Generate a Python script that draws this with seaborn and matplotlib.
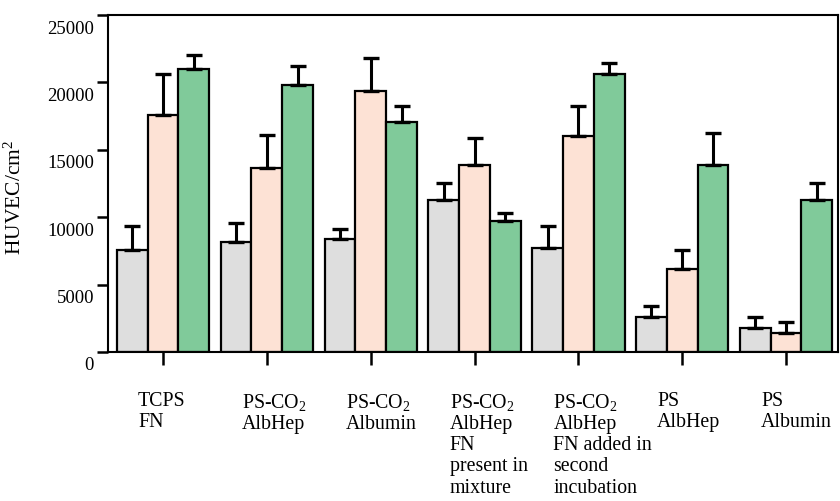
import numpy as np
import pandas as pd
import matplotlib
import matplotlib.pyplot as plt
import matplotlib.transforms as mtransforms
import seaborn as sns

matplotlib.use('Agg')
sns.set_style("ticks")
plt.rcParams['font.family'] = ['Liberation Serif', 'DejaVu Serif']
plt.rcParams['mathtext.fontset'] = 'custom'
plt.rcParams['mathtext.rm'] = 'Liberation Serif'
plt.rcParams['mathtext.it'] = 'Liberation Serif:italic'
for key in ['text.color', 'axes.labelcolor', 'xtick.color', 'ytick.color']:
    plt.rcParams[key] = 'black'

# surfaces (x categories)
surfaces = [
    'TCPS\nFN',
    'PS-CO$_\\mathrm{2}$\nAlbHep',
    'PS-CO$_\\mathrm{2}$\nAlbumin',
    'PS-CO$_\\mathrm{2}$\nAlbHep\nFN\npresent in\nmixture',
    'PS-CO$_\\mathrm{2}$\nAlbHep\nFN added in\nsecond\nincubation',
    'PS\nAlbHep',
    'PS\nAlbumin',
]
series = ['grey', 'pink', 'green']

# HUVEC / cm2
grey_vals = [7550, 8160, 8360, 11300, 7740, 2600, 1800]
grey_err = [1800, 1410, 740, 1210, 1610, 790, 800]
pink_vals = [17600, 13670, 19390, 13870, 16050, 6130, 1410]
pink_err = [3020, 2400, 2420, 1980, 2200, 1440, 790]
green_vals = [20970, 19810, 17060, 9690, 20620, 13850, 11280]
green_err = [1040, 1410, 1170, 650, 800, 2370, 1230]

colors = ['#dedede', '#fde2d5', '#80ca9a']

df = pd.DataFrame({
    'surface': surfaces * 3,
    'series': np.repeat(series, len(surfaces)),
    'value': grey_vals + pink_vals + green_vals,
    'err': grey_err + pink_err + green_err,
})

fig = plt.figure(figsize=(8.4, 5.01), dpi=100)
ax = fig.add_axes([108 / 840, 1 - 352 / 501, 730 / 840, 337 / 501])

sns.barplot(data=df, x='surface', y='value', hue='series', palette=colors,
            width=0.89, gap=0, edgecolor='black', linewidth=1.6,
            errorbar=None, legend=False, saturation=1, ax=ax)

# upper-only error bars at the bar centres
for cont, s in zip(ax.containers, series):
    sub = df[df['series'] == s]
    xs = [p.get_x() + p.get_width() / 2 for p in cont.patches]
    ax.errorbar(xs, sub['value'], yerr=[np.zeros(len(sub)), sub['err']],
                fmt='none', ecolor='black', elinewidth=2.2, capsize=6,
                capthick=2.4, zorder=5)

ax.set_ylim(0, 25000)
ax.set_xlim(-0.53, 6.5)
ax.set_yticks([0, 5000, 10000, 15000, 20000, 25000])
ax.set_xlabel('')
ax.set_ylabel('HUVEC/cm$^\\mathrm{2}$', fontsize=15.5)
ax.yaxis.set_label_coords(-0.112, 0.46)

for sp in ax.spines.values():
    sp.set_linewidth(1.5)
    sp.set_color('black')

ax.tick_params(axis='y', length=8, width=1.8, labelsize=13.5, pad=2)
ax.tick_params(axis='x', length=9.5, width=1.8, labelsize=14.3, pad=19)

shift_x = mtransforms.ScaledTranslation(-0.25, 0, fig.dpi_scale_trans)
for lab in ax.get_xticklabels():
    lab.set_ha('left')
    lab.set_va('top')
    lab.set_linespacing(1.16)
    lab.set_transform(lab.get_transform() + shift_x)

shift_y = mtransforms.ScaledTranslation(0, -0.12, fig.dpi_scale_trans)
for lab in ax.get_yticklabels():
    lab.set_transform(lab.get_transform() + shift_y)

plt.savefig('out.png', dpi=100)
